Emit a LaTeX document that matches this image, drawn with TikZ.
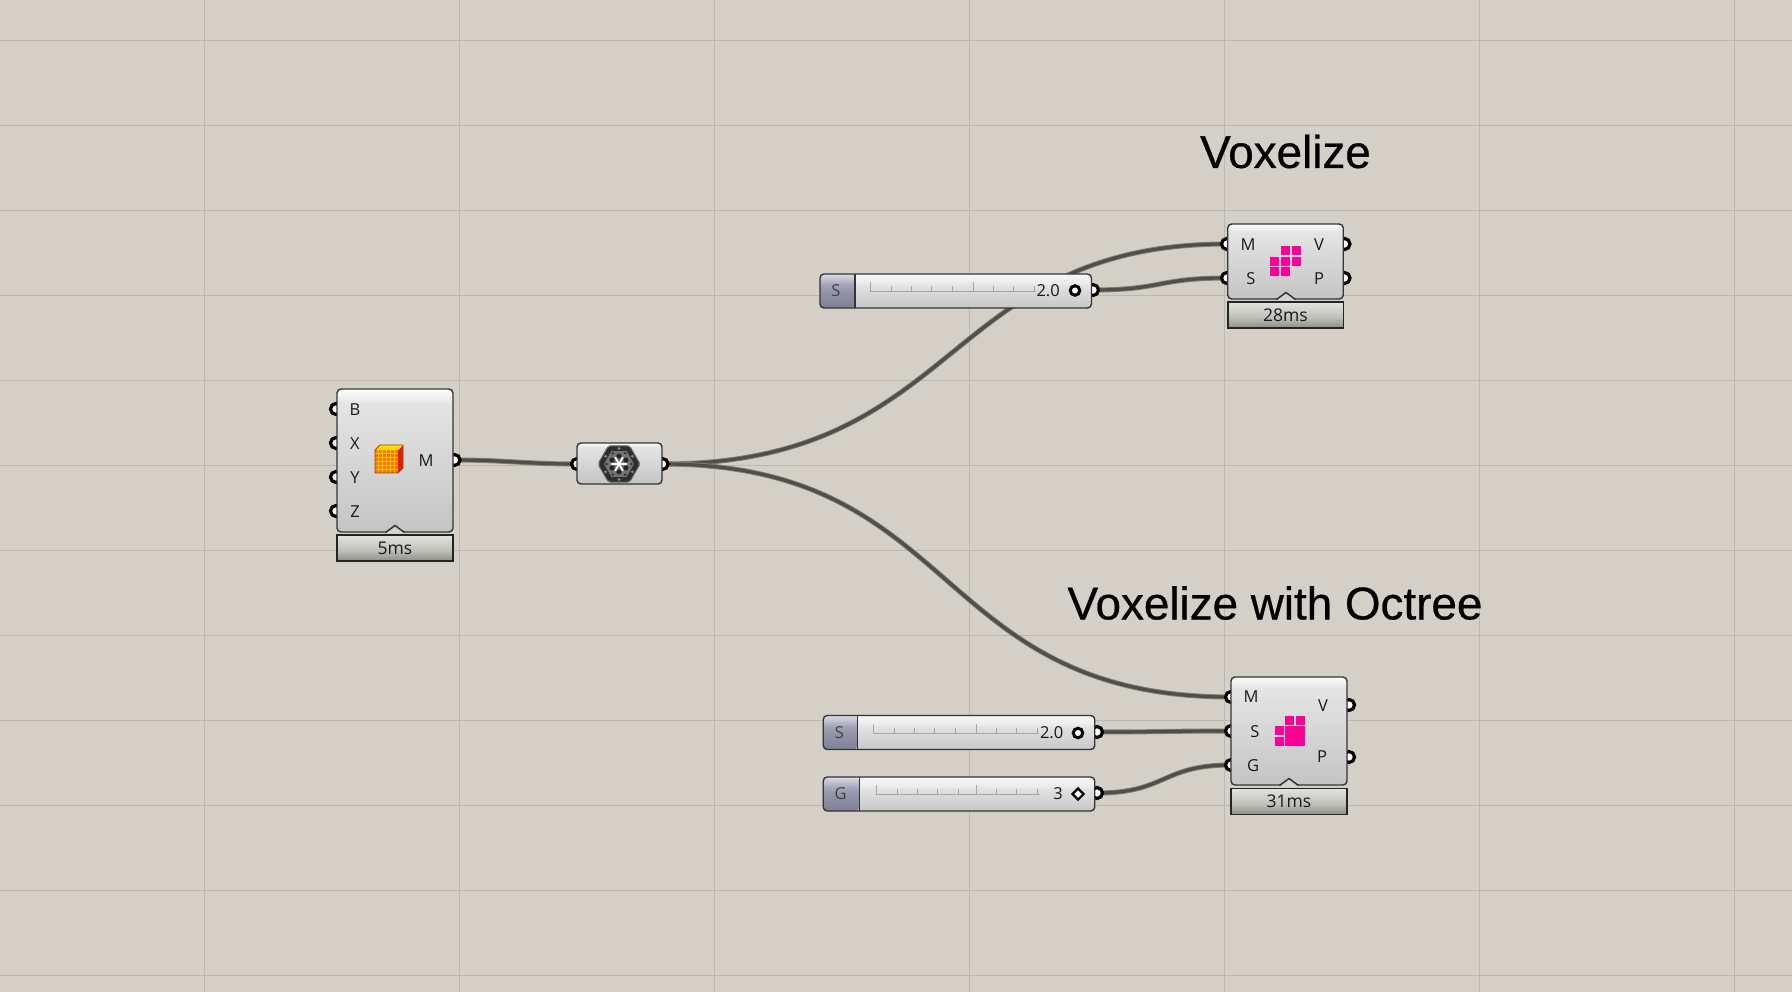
\documentclass[tikz,border=0pt]{standalone}
\usepackage{fontspec}
\setmainfont{Open Sans}
\newfontfamily\titlefont[FakeBold=0.6]{Liberation Sans}
\usetikzlibrary{shapes.geometric,calc}
\pgfdeclarelayer{gridlayer}
\pgfdeclarelayer{wirelayer}
\pgfdeclarelayer{portlayer}
\pgfsetlayers{gridlayer,wirelayer,portlayer,main}
\definecolor{canvas}{RGB}{212,208,199}
\definecolor{gridline}{RGB}{188,184,176}
\definecolor{edge}{RGB}{52,52,50}
\definecolor{wirecore}{RGB}{80,78,70}
\definecolor{wireedge}{RGB}{128,125,115}
\definecolor{txt}{RGB}{25,25,25}
\definecolor{pinkv}{RGB}{255,0,150}
\pgfdeclareverticalshading{ghbody}{100bp}{rgb(0bp)=(.77,.77,.77);rgb(25bp)=(.77,.77,.77);rgb(70bp)=(.895,.895,.895);rgb(71.5bp)=(.93,.93,.93);rgb(75bp)=(.98,.98,.98);rgb(100bp)=(.98,.98,.98)}
\pgfdeclareverticalshading{ghslider}{100bp}{rgb(0bp)=(.78,.78,.78);rgb(25bp)=(.78,.78,.78);rgb(58bp)=(.885,.885,.885);rgb(62bp)=(.925,.925,.925);rgb(75bp)=(.97,.97,.97);rgb(100bp)=(.97,.97,.97)}
\pgfdeclareverticalshading{ghlabel}{100bp}{rgb(0bp)=(.50,.50,.59);rgb(25bp)=(.50,.50,.59);rgb(50bp)=(.58,.58,.67);rgb(60bp)=(.65,.65,.73);rgb(75bp)=(.86,.86,.90);rgb(100bp)=(.86,.86,.90)}
\pgfdeclareverticalshading{ghfoot}{100bp}{rgb(0bp)=(.55,.55,.53);rgb(25bp)=(.55,.55,.53);rgb(45bp)=(.75,.75,.73);rgb(75bp)=(.89,.89,.87);rgb(100bp)=(.89,.89,.87)}
\tikzset{
  compbox/.style={draw=edge,line width=1.4pt,rounded corners=4pt,shading=ghbody,inner sep=0pt,outer sep=0pt},
  footbox/.style={draw=edge!70!black,line width=1.5pt,shading=ghfoot,inner sep=0pt,outer sep=0pt,text=txt,font=\fontsize{17.5}{19}\selectfont},
  sliderbody/.style={draw=edge,line width=1.4pt,rounded corners=4pt,shading=ghslider,inner sep=0pt,outer sep=0pt,minimum width=271.5pt,minimum height=34pt,
    path picture={\shade[shading=ghlabel] (path picture bounding box.north west) rectangle ([xshift=#1pt]path picture bounding box.south west);}},
  portdot/.style={circle,draw=black,fill=white,line width=3.2pt,minimum size=11pt,inner sep=0pt,outer sep=0pt},
  ctext/.style={text=txt,font=\fontsize{16.5}{18}\selectfont,inner sep=0pt},
  valtext/.style={text=txt,font=\fontsize{16.5}{18}\selectfont,inner sep=0pt,anchor=east},
  wire/.style={draw=wireedge,double=wirecore,double distance=3.2pt,line width=.9pt},
  gridln/.style={draw=gridline,line width=.9pt},
  trackln/.style={draw=black!35,line width=.8pt},
  notchfill/.style={fill=gray!35!white,draw=none},
  notchline/.style={draw=edge,line width=1.5pt,line join=round},
  titletext/.style={text=black,font=\titlefont\fontsize{45.8}{50}\selectfont,inner sep=0pt},
  markcirc/.style={circle,draw=black,fill=white,line width=3pt,minimum size=9.5pt,inner sep=0pt},
  markdia/.style={diamond,draw=black,fill=white,line width=2.2pt,minimum size=12pt,inner sep=0pt},
  pinkcell/.style={fill=pinkv,draw=none},
}
\begin{document}
\begin{tikzpicture}[x=1pt,y=-1pt]
\useasboundingbox (0,0) rectangle (1792,992);
\begin{pgfonlayer}{gridlayer}
  \fill[canvas] (0,0) rectangle (1792,992);
  \foreach \gx in {204.6,459.5,714.4,969.3,1224.2,1479.1,1734} \draw[gridln] (\gx,0) -- (\gx,992);
  \foreach \gy in {40.5,125.5,210.5,295.5,380.5,465.5,550.5,635.5,720.5,805.5,890.5,975.5} \draw[gridln] (0,\gy) -- (1792,\gy);
\end{pgfonlayer}

% titles
\node[titletext] (t1) at (1285.5,151.5) {Voxelize};
\node[titletext] (t2) at (1275,603) {Voxelize with Octree};

% box component
\node[compbox,minimum width=116pt,minimum height=143pt] (cube) at (395,460.5) {};
\node[footbox,minimum width=116pt,minimum height=26pt] (cubefoot) at (395,548) {5ms};
\fill[notchfill] (386,533) -- (395,526) -- (404,533) -- cycle;
\draw[notchline] (385.5,532.5) -- (395,525.5) -- (404.5,532.5);
\node[ctext] (lb) at (355,409.5) {B};
\node[ctext] (lx) at (355,443.5) {X};
\node[ctext] (ly) at (355,477.5) {Y};
\node[ctext] (lz) at (355,511.5) {Z};
\node[ctext] (lm) at (426,460.5) {M};
% cube icon
\fill[orange!85!red] (375,450) rectangle (398,473);
\fill[red!75!orange!90!black] (398,450) -- (403,445) -- (403,468) -- (398,473) -- cycle;
\fill[yellow!80!orange] (375,450) -- (380,445) -- (403,445) -- (398,450) -- cycle;
\foreach \cx in {378.8,382.6,386.4,390.2,394} \draw[yellow!70!orange,line width=.8pt] (\cx,450) -- (\cx,473);
\foreach \cy in {453.8,457.6,461.4,465.2,469} \draw[yellow!70!orange,line width=.8pt] (375,\cy) -- (398,\cy);
\draw[orange!60!black,line width=.8pt,line join=round] (375,450) -- (380,445) -- (403,445) -- (403,468) -- (398,473) -- (375,473) -- cycle;

% mesh param
\node[compbox,minimum width=85pt,minimum height=41pt] (mesh) at (619.5,463.5) {};
\node[regular polygon,regular polygon sides=6,minimum size=42pt,inner sep=0pt,fill=black!82,draw=black!60,line width=1pt,rounded corners=2pt] (hex) at (619,464) {};
\node[regular polygon,regular polygon sides=6,minimum size=30pt,inner sep=0pt,fill=black!55,draw=none] (hexin) at (619,464) {};
\foreach \ha in {0,60,...,300} {
  \fill[black!45] (hex.center) ++(\ha+30:15.5) circle (1.5pt);
  \fill[black!85] (hex.center) ++(\ha+30:8) circle (2.6pt);
  \fill[black!80] (hex.center) ++(\ha:12.5) circle (1.4pt);
  \draw[white,line width=1.7pt,line cap=round] (hex.center) -- ++(\ha:7.5);
}

% Voxelize
\node[compbox,minimum width=115.5pt,minimum height=75pt] (vox) at (1285.5,261.5) {};
\node[footbox,minimum width=115.5pt,minimum height=26pt] (voxfoot) at (1285.5,315) {28ms};
\fill[notchfill] (1277,300) -- (1286,293) -- (1295,300) -- cycle;
\draw[notchline] (1276.5,299.5) -- (1286,292.5) -- (1295.5,299.5);
\node[ctext] (vm) at (1248,244.5) {M};
\node[ctext] (vs) at (1251,278.5) {S};
\node[ctext] (vv) at (1319,244.5) {V};
\node[ctext] (vp) at (1319,278.5) {P};
\foreach \px/\py in {1281/246,1291.5/246,1270/257,1281/257,1291.5/257,1270/267.5,1281/267.5}
  \fill[pinkcell] (\px,\py) rectangle ++(9.3,9);

% Octree
\node[compbox,minimum width=116pt,minimum height=108pt] (oct) at (1289,731) {};
\node[footbox,minimum width=116pt,minimum height=26pt] (octfoot) at (1289,801.5) {31ms};
\fill[notchfill] (1280,786) -- (1289,779) -- (1298,786) -- cycle;
\draw[notchline] (1279.5,785.5) -- (1289,778.5) -- (1298.5,785.5);
\node[ctext] (om) at (1251,696.5) {M};
\node[ctext] (os) at (1255,731.5) {S};
\node[ctext] (og) at (1253,765.5) {G};
\node[ctext] (ov) at (1323,705.5) {V};
\node[ctext] (op) at (1322,756.5) {P};
\foreach \px/\py/\pw/\ph in {1285/715.5/9.3/9,1296/715.5/8.5/9,1274.5/725.7/9/9.3,1274.5/736.5/9/9,1285/725.7/19.5/19.8}
  \fill[pinkcell] (\px,\py) rectangle ++(\pw,\ph);

% slider 1
\node[sliderbody=35] (s1) at (955.7,291) {};
\draw[edge,line width=1.3pt] (s1.north west) ++(35,0) -- ++(0,34) coordinate (s1d);
\node[ctext,text=black!75] (s1l) at (836,290.5) {S};
\draw[trackln] (870,291) -- (1036,291);
\foreach \tk/\tl in {870/9,891/5,911.7/5,931.7/5,952/5,973/9,993/5,1013/5,1034/5} \draw[trackln] (\tk,291) -- (\tk,291-\tl);
\node[valtext] (s1v) at (1060,291) {2.0};
\node[markcirc] (s1m) at (1075,290.5) {};

% slider 2
\node[sliderbody=34] (s2) at (959,732.5) {};
\draw[edge,line width=1.3pt] (s2.north west) ++(34,0) -- ++(0,34);
\node[ctext,text=black!75] (s2l) at (839.5,732.5) {S};
\draw[trackln] (873,733) -- (1039,733);
\foreach \tk/\tl in {873/9,894/5,914.7/5,934.7/5,955/5,976/9,996/5,1016/5,1037/5} \draw[trackln] (\tk,733) -- (\tk,733-\tl);
\node[valtext] (s2v) at (1063.5,733) {2.0};
\node[markcirc] (s2m) at (1078,733) {};

% slider 3
\node[sliderbody=36] (s3) at (959,794) {};
\draw[edge,line width=1.3pt] (s3.north west) ++(36,0) -- ++(0,34);
\node[ctext,text=black!75] (s3l) at (840.5,794) {G};
\draw[trackln] (876,794) -- (1040,794);
\foreach \tk/\tl in {876/9,897/5,917/5,937/5,958/5,976/9,996/5,1016/5,1037/5} \draw[trackln] (\tk,794) -- (\tk,794-\tl);
\node[valtext] (s3v) at (1063,794) {3};
\node[markdia] (s3m) at (1078,794) {};

\begin{pgfonlayer}{portlayer}
  \node[portdot] (cb) at (336,409) {};
  \node[portdot] (cx) at (336,443) {};
  \node[portdot] (cy) at (336,477) {};
  \node[portdot] (cz) at (336,511) {};
  \node[portdot] (cm) at (454.5,460) {};
  \node[portdot] (mi) at (577,464) {};
  \node[portdot] (mo) at (662.5,464) {};
  \node[portdot] (vi1) at (1227,244) {};
  \node[portdot] (vi2) at (1227,278) {};
  \node[portdot] (vo1) at (1344.5,244) {};
  \node[portdot] (vo2) at (1344.5,278) {};
  \node[portdot] (oi1) at (1231,697) {};
  \node[portdot] (oi2) at (1231,731) {};
  \node[portdot] (oi3) at (1231,765) {};
  \node[portdot] (oo1) at (1349,705) {};
  \node[portdot] (oo2) at (1349,757) {};
  \node[portdot] (s1o) at (1093,290) {};
  \node[portdot] (s2o) at (1097,732) {};
  \node[portdot] (s3o) at (1097,793) {};
\end{pgfonlayer}

\begin{pgfonlayer}{wirelayer}
  \draw[wire] (cm.center) .. controls +(50,0) and +(-50,0) .. (mi.center);
  \draw[wire] (mo.center) .. controls +(300,0) and +(-285,0) .. (vi1.center);
  \draw[wire] (mo.center) .. controls +(300,0) and +(-300,0) .. (oi1.center);
  \draw[wire] (s1o.center) .. controls +(70,0) and +(-70,0) .. (vi2.center);
  \draw[wire] (s2o.center) .. controls +(70,0) and +(-70,0) .. (oi2.center);
  \draw[wire] (s3o.center) .. controls +(70,0) and +(-70,0) .. (oi3.center);
\end{pgfonlayer}
\end{tikzpicture}
\end{document}
